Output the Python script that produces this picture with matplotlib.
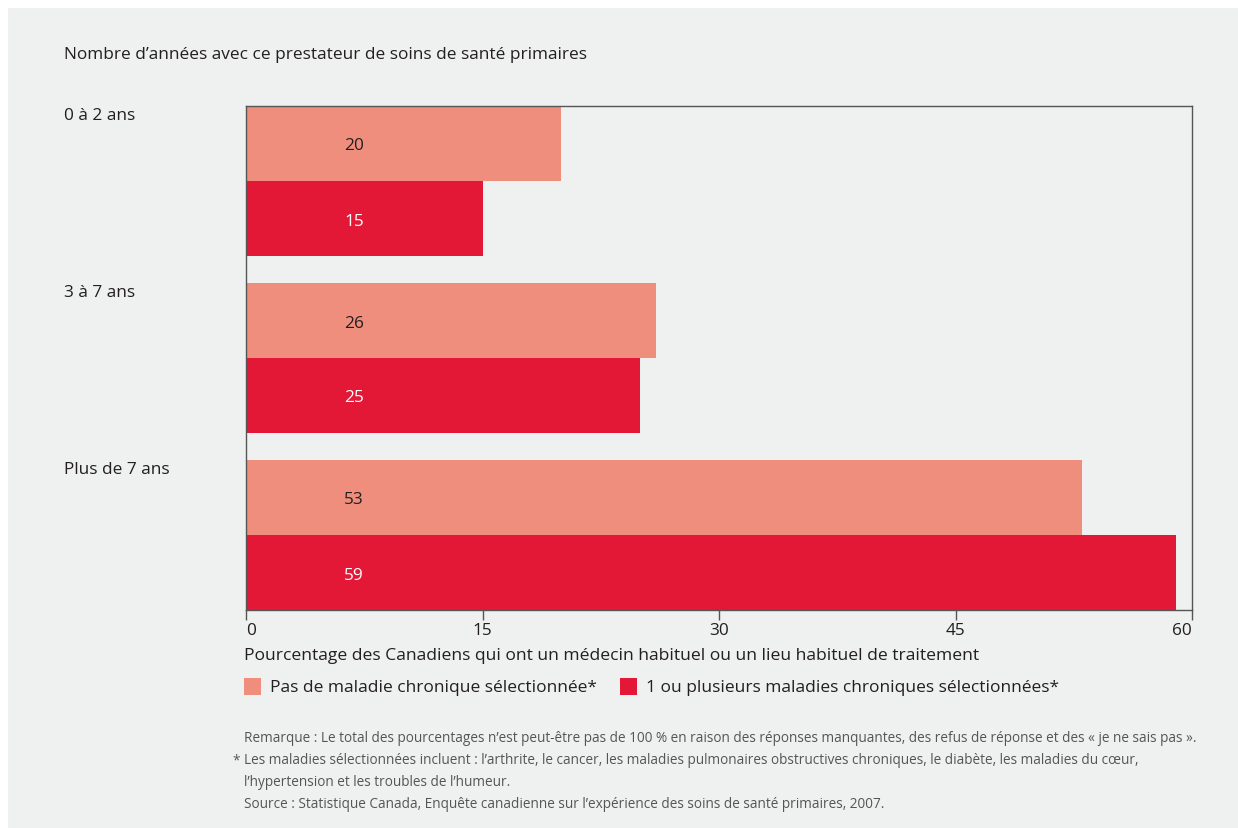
import matplotlib
matplotlib.use("Agg")
import matplotlib.pyplot as plt
from matplotlib.patches import Rectangle
from matplotlib.transforms import blended_transform_factory, offset_copy
import numpy as np

plt.rcParams['font.family'] = ['Open Sans', 'DejaVu Sans']

categories = ["0 à 2 ans", "3 à 7 ans", "Plus de 7 ans"]
series_names = ["Pas de maladie chronique sélectionnée*",
                "1 ou plusieurs maladies chroniques sélectionnées*"]
no_chronic = [20, 26, 53]
chronic = [15, 25, 59]
x_ticks = [0, 15, 30, 45, 60]

LIGHT = "#f08e7e"
DARK = "#e31837"
PANEL = "#eff0f0"
TEXT = "#231f20"
NOTE = "#555555"
FS = 12.4

W, H = 1238, 829
fig = plt.figure(figsize=(W / 100, H / 100), dpi=100)
fig.patch.set_facecolor("white")
fig.add_artist(Rectangle((8 / W, 0), 1 - 8 / W, 1 - 9 / H, transform=fig.transFigure,
                         facecolor=PANEL, edgecolor="none", zorder=-10))

def fx(px):
    return px / W

def fy(py):
    return 1 - py / H

ax = fig.add_axes([fx(246), fy(611), fx(1192) - fx(246), (611 - 107) / H])
ax.set_facecolor(PANEL)

bar_h = 75 / 177
centers = np.arange(len(categories))
ax.barh(centers - bar_h / 2, no_chronic, height=bar_h, color=LIGHT, linewidth=0)
ax.barh(centers + bar_h / 2, chronic, height=bar_h, color=DARK, linewidth=0)
ax.set_ylim(centers[-1] + bar_h, centers[0] - bar_h)
ax.set_xlim(0, 60)

# value labels at a fixed horizontal position inside each bar
lab_tr = offset_copy(blended_transform_factory(ax.transAxes, ax.transData),
                     fig=fig, x=0, y=-2, units="dots")
for i in range(len(categories)):
    ax.text(0.114, centers[i] - bar_h / 2, str(no_chronic[i]), transform=lab_tr,
            ha="center", va="center", fontsize=FS, color=TEXT)
    ax.text(0.114, centers[i] + bar_h / 2, str(chronic[i]), transform=lab_tr,
            ha="center", va="center", fontsize=FS, color="white")

ax.set_yticks([])
ax.set_xticks(x_ticks)
ax.set_xticklabels([str(t) for t in x_ticks], fontsize=FS, color=TEXT)
labels = ax.get_xticklabels()
labels[0].set_ha("left")
labels[-1].set_ha("right")
ax.tick_params(axis="x", direction="out", length=7, width=1, color="#555555", pad=2)
for s in ax.spines.values():
    s.set_color("#555555")
    s.set_linewidth(1)

# category labels aligned with the top of each group
for i, c in enumerate(categories):
    ytop = centers[i] - bar_h
    disp = ax.transData.transform((0, ytop))
    fyv = fig.transFigure.inverted().transform(disp)[1]
    fig.text(fx(64), fyv - 0.001, c, ha="left", va="top", fontsize=FS, color=TEXT)

fig.text(fx(64), fy(55), "Nombre d’années avec ce prestateur de soins de santé primaires",
         ha="left", va="center", fontsize=FS, color=TEXT)

fig.text(fx(244), fy(656), "Pourcentage des Canadiens qui ont un médecin habituel ou un lieu habituel de traitement",
         ha="left", va="center", fontsize=12.6, color=TEXT)

# legend
for x0, col, name in [(244, LIGHT, series_names[0]), (620, DARK, series_names[1])]:
    fig.add_artist(Rectangle((fx(x0), fy(696)), 17 / W, 17 / H, transform=fig.transFigure,
                             facecolor=col, edgecolor="none"))
    fig.text(fx(x0 + 26), fy(688), name, ha="left", va="center", fontsize=12.5, color=TEXT)

notes = [
    (244, 739, "Remarque : Le total des pourcentages n’est peut-être pas de 100 % en raison des réponses manquantes, des refus de réponse et des « je ne sais pas »."),
    (244, 761, "Les maladies sélectionnées incluent : l’arthrite, le cancer, les maladies pulmonaires obstructives chroniques, le diabète, les maladies du cœur,"),
    (244, 783, "l’hypertension et les troubles de l’humeur."),
    (244, 805, "Source : Statistique Canada, Enquête canadienne sur l’expérience des soins de santé primaires, 2007."),
]
for x0, y0, t in notes:
    fig.text(fx(x0), fy(y0), t, ha="left", va="center", fontsize=9.8, color=NOTE)
fig.text(fx(232), fy(761), "*", ha="left", va="center", fontsize=9.8, color=NOTE)

fig.savefig("out.png", dpi=100, facecolor=fig.get_facecolor())
